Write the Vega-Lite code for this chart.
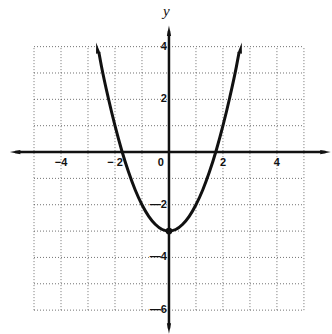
{
  "$schema": "https://vega.github.io/schema/vega-lite/v6.json",
  "width": 332,
  "height": 334,
  "autosize": {"type": "fit", "contains": "padding"},
  "padding": 0,
  "background": "white",
  "config": {"view": {"stroke": null}},
  "datasets": {
    "grid": [
      {"x": -5, "x2": -5, "y": -6, "y2": 4},
      {"x": -4, "x2": -4, "y": -6, "y2": 4},
      {"x": -3, "x2": -3, "y": -6, "y2": 4},
      {"x": -2, "x2": -2, "y": -6, "y2": 4},
      {"x": -1, "x2": -1, "y": -6, "y2": 4},
      {"x": 1, "x2": 1, "y": -6, "y2": 4},
      {"x": 2, "x2": 2, "y": -6, "y2": 4},
      {"x": 3, "x2": 3, "y": -6, "y2": 4},
      {"x": 4, "x2": 4, "y": -6, "y2": 4},
      {"x": 5, "x2": 5, "y": -6, "y2": 4},
      {"x": -5, "x2": 5, "y": -6, "y2": -6},
      {"x": -5, "x2": 5, "y": -5, "y2": -5},
      {"x": -5, "x2": 5, "y": -4, "y2": -4},
      {"x": -5, "x2": 5, "y": -3, "y2": -3},
      {"x": -5, "x2": 5, "y": -2, "y2": -2},
      {"x": -5, "x2": 5, "y": -1, "y2": -1},
      {"x": -5, "x2": 5, "y": 1, "y2": 1},
      {"x": -5, "x2": 5, "y": 2, "y2": 2},
      {"x": -5, "x2": 5, "y": 3, "y2": 3},
      {"x": -5, "x2": 5, "y": 4, "y2": 4}
    ],
    "axes": [
      {"x": -5.7, "x2": 5.8, "y": 0, "y2": 0},
      {"x": 0, "x2": 0, "y": -6.7, "y2": 4.6}
    ],
    "curve": [
      {"x": -2.6, "y": 3.8},
      {"x": -2.5, "y": 3.25},
      {"x": -2.25, "y": 2.06},
      {"x": -2.0, "y": 1.0},
      {"x": -1.75, "y": 0.06},
      {"x": -1.5, "y": -0.75},
      {"x": -1.25, "y": -1.44},
      {"x": -1.0, "y": -2.0},
      {"x": -0.75, "y": -2.44},
      {"x": -0.5, "y": -2.75},
      {"x": -0.25, "y": -2.94},
      {"x": 0.0, "y": -3.0},
      {"x": 0.25, "y": -2.94},
      {"x": 0.5, "y": -2.75},
      {"x": 0.75, "y": -2.44},
      {"x": 1.0, "y": -2.0},
      {"x": 1.25, "y": -1.44},
      {"x": 1.5, "y": -0.75},
      {"x": 1.75, "y": 0.06},
      {"x": 2.0, "y": 1.0},
      {"x": 2.25, "y": 2.06},
      {"x": 2.5, "y": 3.25},
      {"x": 2.6, "y": 3.8}
    ],
    "xlabels": [
      {"x": -4, "y": 0, "label": "−4"},
      {"x": -2, "y": 0, "label": "− 2"},
      {"x": -0.3, "y": 0, "label": "0"},
      {"x": 2, "y": 0, "label": "2"},
      {"x": 4, "y": 0, "label": "4"}
    ],
    "ylabels": [
      {"x": 0, "y": 4, "label": "4"},
      {"x": 0, "y": 2, "label": "2"},
      {"x": 0, "y": -2, "label": "—2"},
      {"x": 0, "y": -4, "label": "—4"},
      {"x": 0, "y": -6, "label": "—6"}
    ]
  },
  "encoding": {
    "x": {"field": "x", "type": "quantitative", "scale": {"domain": [-6.26, 6.04], "nice": false, "zero": false}, "axis": null},
    "y": {"field": "y", "type": "quantitative", "scale": {"domain": [-6.83, 5.77], "nice": false, "zero": false}, "axis": null}
  },
  "layer": [
    {
      "data": {"name": "grid"},
      "mark": {"type": "rule", "color": "#444", "strokeWidth": 1, "strokeDash": [1, 2], "opacity": 0.75},
      "encoding": {"x2": {"field": "x2"}, "y2": {"field": "y2"}}
    },
    {
      "data": {"name": "axes"},
      "mark": {"type": "rule", "color": "#111", "strokeWidth": 2.5},
      "encoding": {"x2": {"field": "x2"}, "y2": {"field": "y2"}}
    },
    {
      "data": {"name": "curve"},
      "mark": {"type": "line", "color": "#111", "strokeWidth": 3, "interpolate": "monotone"},
      "encoding": {"order": {"field": "x", "type": "quantitative"}}
    },
    {
      "data": {"values": [{"x": 0, "y": 4.6}]},
      "mark": {"type": "point", "shape": "M0,-1L0.4,1L-0.4,1Z", "filled": true, "color": "#111", "opacity": 1, "size": 110, "angle": 0},
      "encoding": {}
    },
    {
      "data": {"values": [{"x": 0, "y": -6.7}]},
      "mark": {"type": "point", "shape": "M0,-1L0.4,1L-0.4,1Z", "filled": true, "color": "#111", "opacity": 1, "size": 110, "angle": 180},
      "encoding": {}
    },
    {
      "data": {"values": [{"x": 5.8, "y": 0}]},
      "mark": {"type": "point", "shape": "M0,-1L0.4,1L-0.4,1Z", "filled": true, "color": "#111", "opacity": 1, "size": 110, "angle": 90},
      "encoding": {}
    },
    {
      "data": {"values": [{"x": -5.7, "y": 0}]},
      "mark": {"type": "point", "shape": "M0,-1L0.4,1L-0.4,1Z", "filled": true, "color": "#111", "opacity": 1, "size": 110, "angle": 270},
      "encoding": {}
    },
    {
      "data": {"values": [{"x": -2.66, "y": 3.95}]},
      "mark": {"type": "point", "shape": "M0,-1L0.4,1L-0.4,1Z", "filled": true, "color": "#111", "opacity": 1, "size": 120, "angle": -11},
      "encoding": {}
    },
    {
      "data": {"values": [{"x": 2.66, "y": 3.95}]},
      "mark": {"type": "point", "shape": "M0,-1L0.4,1L-0.4,1Z", "filled": true, "color": "#111", "opacity": 1, "size": 120, "angle": 11},
      "encoding": {}
    },
    {
      "data": {"values": [{"x": 0, "y": -3}]},
      "mark": {"type": "point", "shape": "circle", "filled": true, "color": "#111", "opacity": 1, "size": 45},
      "encoding": {}
    },
    {
      "data": {"name": "xlabels"},
      "mark": {"type": "text", "font": "Liberation Sans", "fontSize": 11, "fontWeight": "bold", "color": "#111", "align": "center", "baseline": "top", "dy": 5},
      "encoding": {"text": {"field": "label"}}
    },
    {
      "data": {"name": "ylabels"},
      "mark": {"type": "text", "font": "Liberation Sans", "fontSize": 11, "fontWeight": "bold", "color": "#111", "align": "right", "baseline": "middle", "dx": -2},
      "encoding": {"text": {"field": "label"}}
    },
    {
      "data": {"values": [{"x": -0.1, "y": 5.35, "label": "y"}]},
      "mark": {"type": "text", "font": "Liberation Serif", "fontSize": 15, "fontStyle": "italic", "color": "#111", "align": "center", "baseline": "middle"},
      "encoding": {"text": {"field": "label"}}
    }
  ]
}
